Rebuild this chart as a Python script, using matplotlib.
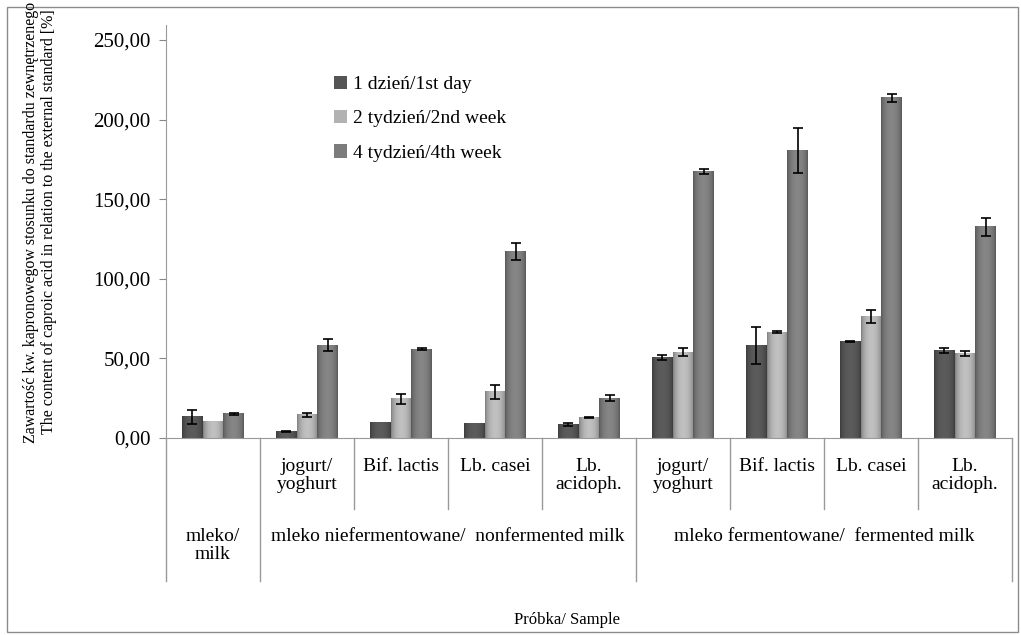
import numpy as np
import matplotlib
matplotlib.use('Agg')
import matplotlib.pyplot as plt
from matplotlib.patches import Rectangle, Patch
from matplotlib.ticker import FuncFormatter

plt.rcParams['font.family'] = ['Liberation Serif', 'DejaVu Serif']

# category labels (two levels)
sub_labels = ['', 'jogurt/\nyoghurt', 'Bif. lactis', 'Lb. casei', 'Lb.\nacidoph.',
              'jogurt/\nyoghurt', 'Bif. lactis', 'Lb. casei', 'Lb.\nacidoph.']
group_labels = ['mleko/\nmilk', 'mleko niefermentowane/  nonfermented milk',
                'mleko fermentowane/  fermented milk']
group_sizes = [1, 4, 4]

series_names = ['1 dzień/1st day', '2 tydzień/2nd week', '4 tydzień/4th week']
day1 = [13.2, 4.0, 9.6, 8.9, 8.7, 50.8, 58.1, 60.4, 54.8]
day1_err = [4.4, 0.4, 0, 0, 1.0, 1.6, 11.7, 0.3, 1.5]
week2 = [10.3, 14.5, 24.6, 29.0, 12.7, 53.9, 66.5, 76.5, 53.0]
week2_err = [0, 1.0, 3.1, 4.6, 0.3, 2.4, 0.5, 4.2, 1.4]
week4 = [15.1, 58.3, 55.8, 117.0, 25.1, 167.5, 180.6, 213.7, 132.7]
week4_err = [0.5, 3.8, 0.5, 5.4, 1.9, 1.5, 14.1, 2.6, 5.8]

colors = ['#555555', '#b2b2b2', '#7c7c7c']

W, H = 1021, 635
fig = plt.figure(figsize=(W / 100, H / 100), dpi=100)
ax = fig.add_axes([166 / W, 1 - 438 / H, (1012 - 166) / W, (438 - 25) / H])

n = len(sub_labels)
x = np.arange(n)
bw = 0.22
t = np.linspace(0, 1, 40)
prof = 0.7 + 0.38 * np.sin(np.pi * t) ** 0.6

for k, (vals, errs) in enumerate([(day1, day1_err), (week2, week2_err), (week4, week4_err)]):
    xs = x + (k - 1) * bw
    bars = ax.bar(xs, vals, bw, color=colors[k], edgecolor='none', zorder=2)
    base = np.array(matplotlib.colors.to_rgb(colors[k]))
    img = np.clip(prof[:, None] * base[None, :], 0, 1)[None, :, :]
    for r in bars:
        ax.imshow(img, extent=[r.get_x(), r.get_x() + r.get_width(), 0, r.get_height()],
                  aspect='auto', interpolation='bilinear', zorder=2.5)
    errs = np.array(errs)
    m = errs > 0
    ax.errorbar(xs[m], np.array(vals)[m], yerr=errs[m], fmt='none', ecolor='black',
                elinewidth=1.2, capsize=3.5, capthick=1.2, zorder=4)

ax.set_xlim(-0.5, n - 0.5)
ax.set_ylim(0, (438 - 25) / 1.592)
ax.set_yticks([0, 50, 100, 150, 200, 250])
ax.yaxis.set_major_formatter(FuncFormatter(lambda v, p: f'{v:.2f}'.replace('.', ',')))
ax.tick_params(axis='y', labelsize=15, length=5, color='#888888', pad=6)
ax.set_xticks([])
for s in ['top', 'right']:
    ax.spines[s].set_visible(False)
for s in ['left', 'bottom']:
    ax.spines[s].set_color('#999999')

# category table below the axis
trans = matplotlib.transforms.blended_transform_factory(ax.transData, ax.transAxes)
lvl1 = (438 - 509) / 413
lvl2 = (438 - 581) / 413
edges = [-0.5]
for g in group_sizes:
    edges.append(edges[-1] + g)
for b in np.arange(n + 1) - 0.5:
    y_end = lvl2 if b in edges else lvl1
    ax.plot([b, b], [0, y_end], color='#999999', lw=1, transform=trans, clip_on=False)
for i, lab in enumerate(sub_labels):
    ax.text(i, (438 - 458) / 413, lab, transform=trans, ha='center', va='top',
            fontsize=14, linespacing=1.05)
for j, lab in enumerate(group_labels):
    c = (edges[j] + edges[j + 1]) / 2
    ax.text(c, (438 - 528) / 413, lab, transform=trans, ha='center', va='top',
            fontsize=14, linespacing=1.05)

fig.text(567 / W, 1 - 620 / H, 'Próbka/ Sample', ha='center', va='center', fontsize=12)
fig.text(40 / W, 1 - 222 / H,
         'Zawartość kw. kapronowegow stosunku do standardu zewnętrzenego\n'
         'The content of caproic acid in relation to the external standard [%]',
         rotation=90, ha='center', va='center', fontsize=11.5, linespacing=1.1)

handles = [Patch(facecolor=c, edgecolor='none') for c in colors]
fig.legend(handles, series_names, loc='upper left', bbox_to_anchor=(324 / W, 1 - 66 / H),
           frameon=False, fontsize=14, handlelength=0.7, handleheight=0.7,
           handletextpad=0.3, labelspacing=0.85, borderpad=0)

fig.patches.append(Rectangle((7 / W, 3 / H), 1011 / W, 625 / H, transform=fig.transFigure,
                             fill=False, edgecolor='#8c8c8c', lw=1))

fig.savefig('out.png', dpi=100)
